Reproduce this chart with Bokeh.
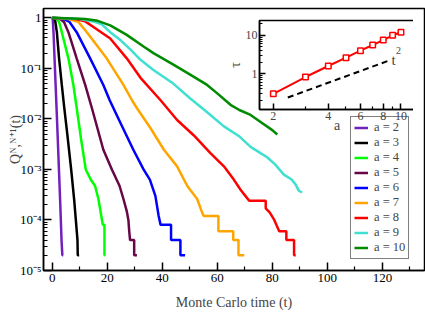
from bokeh.plotting import figure
from bokeh.models import (Range1d, FixedTicker, Label, BasicTickFormatter)
from bokeh.layouts import column
from bokeh.embed import file_html
from bokeh.resources import INLINE

# ---------------- data ----------------
t_a2 = [0, 0.2, 0.5, 0.84, 1.2, 1.67, 2.3, 2.9, 3.4, 3.7, 4.0]
q_a2 = [1, 0.95, 0.5, 0.17, 0.055, 0.013, 0.0017, 2.4e-4, 4e-5, 2e-5, 2e-5]

t_a3 = [0, 1.0, 1.7, 2.5, 3.5, 4.4, 5.5, 6.9, 8.0, 8.6, 9.2, 9.3, 9.8]
q_a3 = [1, 0.95, 0.52, 0.16, 0.047, 0.0166, 0.005, 0.001, 2.5e-4, 1e-4, 4e-5, 2e-5, 2e-5]

t_a4 = [0, 1.7, 2.5, 3.5, 5.9, 7.7, 8.9, 10.5, 12.2, 14.0, 15.6, 16.8, 18.4, 19.0, 19.0, 19.3]
q_a4 = [1, 0.95, 0.83, 0.52, 0.158, 0.047, 0.0166, 0.004, 0.001, 6.3e-4, 4.7e-4, 2.6e-4, 8e-5, 8e-5, 2e-5, 2e-5]

t_a5 = [0, 2.9, 4.3, 5.9, 8.9, 12.0, 14.4, 18.6, 21.7, 24.5, 25.9, 27.1, 27.7, 28.0, 28.3, 29.8, 29.8, 30.8]
q_a5 = [1, 0.95, 0.83, 0.52, 0.158, 0.047, 0.0166, 0.00245, 0.001, 4.7e-4, 2.6e-4, 1.5e-4, 1e-4, 6e-5, 4e-5, 4e-5, 2e-5, 2e-5]

t_a6 = [0, 4.1, 6.3, 8.9, 13.8, 18.6, 20.9, 25.0, 29.5, 33.2, 35.5, 37.5, 38.7, 39.4, 43.2, 43.2, 46.6, 46.6, 48.3]
q_a6 = [1, 0.95, 0.83, 0.52, 0.158, 0.047, 0.0234, 0.0079, 0.00245, 0.001, 6.3e-4, 3e-4, 1.2e-4, 8e-5, 8e-5, 4e-5, 4e-5, 2e-5, 2e-5]

t_a7 = [0, 5.9, 9.5, 12.6, 19.8, 25.9, 29.0, 30.7, 35.7, 40.6, 45.4, 49.1, 52.7, 54.5, 55.1,
        60.4, 60.4, 65.8, 65.8, 67.7, 67.7, 69.8]
q_a7 = [1, 0.95, 0.83, 0.52, 0.158, 0.047, 0.0234, 0.0166, 0.0066, 0.00245, 0.00115, 4.7e-4, 2.6e-4, 1.4e-4, 1.2e-4,
        1.2e-4, 6e-5, 6e-5, 4e-5, 4e-5, 2e-5, 2e-5]

t_a8 = [0, 8.4, 12.0, 15.0, 21.1, 27.1, 32.1, 39.4, 45.4, 51.5, 57.5, 62.4, 66.0, 68.4, 70.2, 71.6,
        77.6, 77.6, 79.1, 80.7, 82.5, 85.1, 85.1, 87.9, 87.9, 88.5]
q_a8 = [1, 0.95, 0.85, 0.66, 0.39, 0.158, 0.065, 0.0234, 0.0095, 0.0047, 0.0021, 0.00115, 6.3e-4, 4e-4, 3e-4, 2.4e-4,
        2.4e-4, 1.7e-4, 1.4e-4, 1e-4, 6e-5, 6e-5, 4e-5, 4e-5, 2e-5, 2e-5]

t_a9 = [0, 10.2, 15.0, 18.0, 21.1, 25.0, 28.5, 32.1, 36.8, 44.0, 50.3, 56.0, 62.4, 67.8, 72.1, 75.7,
        78.1, 81.0, 84.2, 87.0, 88.5, 89.6, 90.8]
q_a9 = [1, 0.95, 0.85, 0.74, 0.52, 0.355, 0.234, 0.148, 0.093, 0.05, 0.025, 0.014, 0.0071, 0.0046, 0.0028, 0.0021,
        0.00174, 0.00126, 7.9e-4, 6.3e-4, 5e-4, 3.8e-4, 3.5e-4]

t_a10 = [0, 12.0, 16.0, 21.1, 27.1, 33.2, 36.8, 44.2, 50.0, 56.3, 60.0, 64.8, 68.0, 72.1, 76.0, 80.0, 81.8]
q_a10 = [1, 0.95, 0.89, 0.71, 0.46, 0.27, 0.2, 0.117, 0.076, 0.047, 0.032, 0.019, 0.015, 0.012, 0.0085, 0.006, 0.0049]

series_t = [t_a2, t_a3, t_a4, t_a5, t_a6, t_a7, t_a8, t_a9, t_a10]
series_q = [q_a2, q_a3, q_a4, q_a5, q_a6, q_a7, q_a8, q_a9, q_a10]
series_labels = ["a = 2", "a = 3", "a = 4", "a = 5", "a = 6", "a = 7", "a = 8", "a = 9", "a = 10"]
series_colors = ["#7221bc", "#000000", "#00ff00", "#670748", "#0000ff", "#ffa500", "#ff0000", "#40e0d0", "#008b00"]

inset_a = [2, 3, 4, 5, 6, 7, 8, 9, 10]
inset_tau = [0.30, 0.82, 1.59, 2.61, 3.98, 5.6, 7.5, 10.0, 12.0]
guide_a = [2.4, 8.6]
guide_tau = [0.24, 2.2]

x_ticks_major = [0, 20, 40, 60, 80, 100, 120]
x_ticks_minor = [10, 30, 50, 70, 90, 110, 130]
y_ticks_major = [1e-5, 1e-4, 1e-3, 1e-2, 1e-1, 1]
y_tick_labels = ["10\u207b\u2075", "10\u207b\u2074", "10\u207b\u00b3", "10\u207b\u00b2", "10\u207b\u00b9", "1"]
inset_x_ticks = [2, 4, 6, 8, 10]
inset_x_minor = [3, 5, 7, 9]
inset_y_ticks = [1, 10]

FONT = "Liberation Serif"

# ---------------- main figure ----------------
p = figure(frame_width=381, frame_height=262,
           x_range=Range1d(-3.15, 135.3), y_range=Range1d(1e-5, 1.53),
           y_axis_type="log", output_backend="svg", toolbar_location=None,
           min_border_left=43, min_border_right=1, min_border_top=8, min_border_bottom=46)
p.grid.visible = False
p.outline_line_color = "black"
p.outline_line_width = 1.5

for ax in (p.xaxis[0], p.yaxis[0]):
    ax.axis_line_width = 1.5
    ax.major_tick_line_width = 1.5
    ax.minor_tick_line_width = 1.2
    ax.major_tick_in = 8
    ax.major_tick_out = 0
    ax.minor_tick_in = 4
    ax.minor_tick_out = 0
    ax.major_label_text_font = FONT
    ax.major_label_text_font_size = "13px"
    ax.major_label_text_color = "black"
    ax.axis_label_text_font = FONT
    ax.axis_label_text_font_size = "14px"
    ax.axis_label_text_font_style = "normal"

p.xaxis[0].ticker = FixedTicker(ticks=x_ticks_major, minor_ticks=x_ticks_minor)
p.xaxis[0].major_label_standoff = 3
p.xaxis[0].axis_label = "Monte Carlo time (t)"
p.xaxis[0].axis_label_standoff = 10

minor_y = [k * 10.0 ** e for e in range(-5, 1) for k in range(2, 10)]
p.yaxis[0].ticker = FixedTicker(ticks=y_ticks_major, minor_ticks=minor_y)
p.yaxis[0].major_label_overrides = dict(zip(y_ticks_major, y_tick_labels))
p.yaxis[0].major_label_standoff = 2
p.yaxis[0].axis_label = "Q\u1d3a,\u1d3a\u207a\u00b9(t)"
p.yaxis[0].axis_label_standoff = -6

for t, q, c, lab in zip(series_t, series_q, series_colors, series_labels):
    p.line(t, q, line_color=c, line_width=2.5, legend_label=lab)

leg = p.legend[0]
leg.location = (307, 11)
leg.margin = 0
leg.padding = 3
leg.spacing = 0
leg.glyph_width = 14
leg.glyph_height = 13
leg.label_height = 13
leg.label_width = 20
leg.label_standoff = 6
leg.label_text_font = FONT
leg.label_text_font_size = "12.5px"
leg.label_text_baseline = "middle"
leg.border_line_color = "black"
leg.border_line_width = 1
leg.background_fill_alpha = 1

# ---------------- inset figure ----------------
ins = figure(frame_width=155, frame_height=89,
             x_axis_type="log", y_axis_type="log",
             x_range=Range1d(1.68, 11.86), y_range=Range1d(0.117, 24.3),
             output_backend="svg", toolbar_location=None,
             min_border_left=40, min_border_right=2, min_border_top=2, min_border_bottom=28)
ins.border_fill_alpha = 0
ins.background_fill_color = "white"
ins.grid.visible = False
ins.outline_line_color = "black"
ins.outline_line_width = 1.5
for ax in (ins.xaxis[0], ins.yaxis[0]):
    ax.axis_line_width = 1.5
    ax.major_tick_line_width = 1.5
    ax.minor_tick_line_width = 1.2
    ax.major_tick_in = 6
    ax.major_tick_out = 0
    ax.minor_tick_in = 3
    ax.minor_tick_out = 0
    ax.major_label_text_font = FONT
    ax.major_label_text_font_size = "12px"
    ax.major_label_standoff = 2
    ax.formatter = BasicTickFormatter()
    ax.axis_label_text_font = FONT
    ax.axis_label_text_font_size = "14px"
    ax.axis_label_text_font_style = "normal"
ins.xaxis[0].ticker = FixedTicker(ticks=inset_x_ticks, minor_ticks=inset_x_minor)
ins.yaxis[0].ticker = FixedTicker(ticks=inset_y_ticks,
                                  minor_ticks=[k * 10.0 ** e for e in range(-1, 2) for k in range(2, 10)])
ins.xaxis[0].axis_label = "a"
ins.xaxis[0].axis_label_standoff = -5
ins.yaxis[0].axis_label = "τ"
ins.yaxis[0].axis_label_standoff = 0

ins.line(guide_a, guide_tau, line_color="black", line_width=2, line_dash="6 4")
ins.line(inset_a, inset_tau, line_color="#ff0000", line_width=2)
ins.scatter(inset_a, inset_tau, marker="square", size=5.5, line_color="#ff0000",
            fill_color="white", line_width=1.5)

ins.add_layout(Label(x=132, y=50, x_units="screen", y_units="screen", text="t",
                     text_font=FONT, text_font_size="15px", text_baseline="alphabetic"))
ins.add_layout(Label(x=136.5, y=59, x_units="screen", y_units="screen", text="2",
                     text_font=FONT, text_font_size="10px", text_baseline="alphabetic"))

ins.styles = {"position": "absolute", "left": "216px", "top": "18px"}

layout = column(p, ins)
open("out.html", "w").write(file_html(layout, INLINE))
